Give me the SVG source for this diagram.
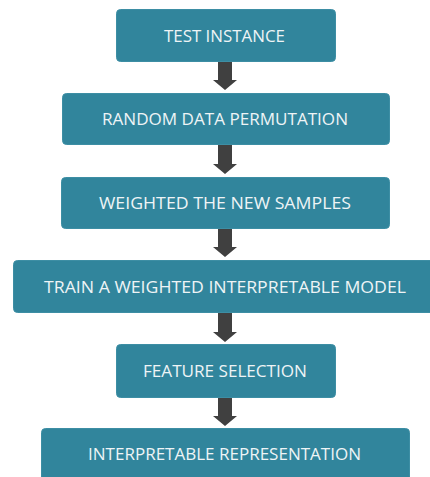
<svg xmlns="http://www.w3.org/2000/svg" width="430" height="477" viewBox="0 0 430 477">
<style>
.box{fill:#31859c;stroke:#3d8ea4;stroke-width:1}
.lbl{font-family:"Open Sans","Liberation Sans",Arial,sans-serif;font-size:16px;fill:#eef4f6;text-anchor:middle}
.arr{fill:#404040}
</style>
<rect width="430" height="477" fill="#ffffff"/>
<g id="connectors">
<path class="arr" d="M218,62 H232 V80 H237 L225,90 L213,80 H218 Z"/>
<path class="arr" d="M218,145 H232 V164 H237 L225,174 L213,164 H218 Z"/>
<path class="arr" d="M218,229 H232 V247 H237 L225,257 L213,247 H218 Z"/>
<path class="arr" d="M218,313 H232 V332 H237 L225,342 L213,332 H218 Z"/>
<path class="arr" d="M218,398 H232 V416 H237 L225,426 L213,416 H218 Z"/>
</g>
<g id="n1"><rect class="box" x="116.5" y="9.5" width="219" height="52" rx="4"/><text class="lbl" x="224.5" y="41.5" textLength="121" lengthAdjust="spacingAndGlyphs">TEST INSTANCE</text></g>
<g id="n2"><rect class="box" x="62.5" y="93.5" width="327" height="51" rx="4"/><text class="lbl" x="225" y="125" textLength="246" lengthAdjust="spacingAndGlyphs">RANDOM DATA PERMUTATION</text></g>
<g id="n3"><rect class="box" x="61.5" y="177.5" width="328" height="51" rx="4"/><text class="lbl" x="225" y="208.5" textLength="252" lengthAdjust="spacingAndGlyphs">WEIGHTED THE NEW SAMPLES</text></g>
<g id="n4"><rect class="box" x="13.5" y="260.5" width="425" height="52" rx="4"/><text class="lbl" x="225" y="292.5" textLength="362" lengthAdjust="spacingAndGlyphs">TRAIN A WEIGHTED INTERPRETABLE MODEL</text></g>
<g id="n5"><rect class="box" x="116.5" y="344.5" width="219" height="53" rx="4"/><text class="lbl" x="225" y="377" textLength="164" lengthAdjust="spacingAndGlyphs">FEATURE SELECTION</text></g>
<g id="n6"><rect class="box" x="41.5" y="428.5" width="368" height="60" rx="4"/><text class="lbl" x="224.5" y="460" textLength="273" lengthAdjust="spacingAndGlyphs">INTERPRETABLE REPRESENTATION</text></g>
</svg>
